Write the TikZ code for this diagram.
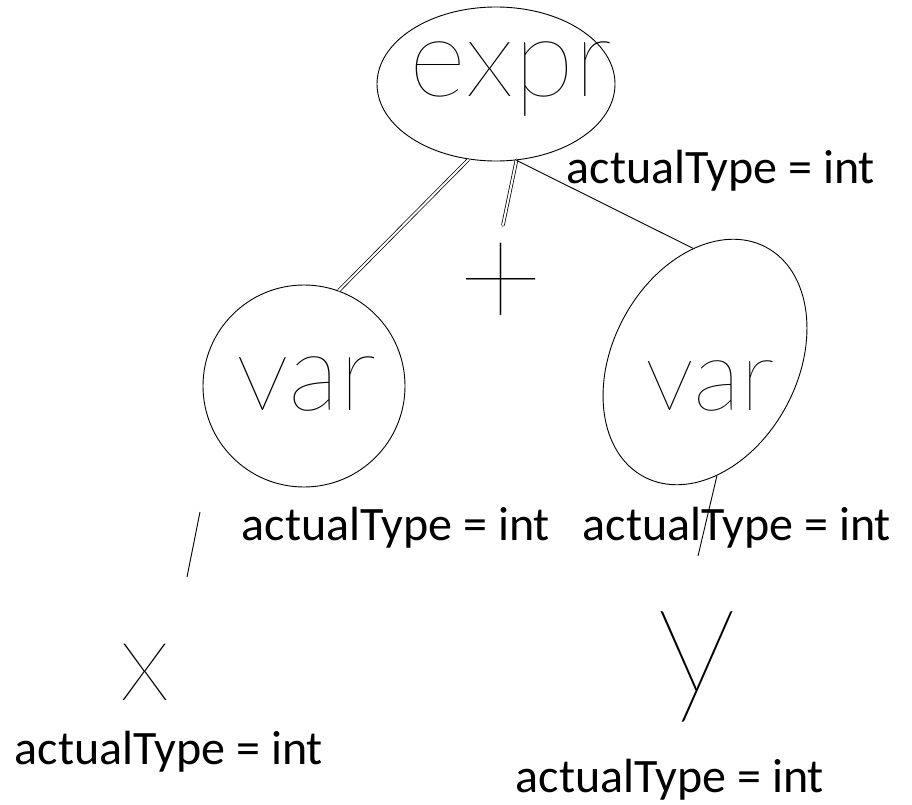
\documentclass[tikz,border=0pt]{standalone}
\usepackage{fontspec}
\usepackage{tikz}
\usetikzlibrary{shapes.geometric,positioning,calc}
\newfontfamily\labelfont{Carlito}
\newfontfamily\handfont{Lato Hairline}
\newcommand{\hand}[1]{\fontsize{#1}{#1}\selectfont\handfont}

\begin{document}
\begin{tikzpicture}[x=1pt,y=-1pt,line width=0.9pt,
  blob/.style={draw,ellipse,inner sep=0pt},
  scrawl/.style={anchor=base,inner sep=0pt},
  attr/.style={anchor=base,font=\labelfont\fontsize{48}{48}\selectfont,inner sep=0pt},
  twin/.style={double,double distance=2pt,line width=0.75pt}]
  \useasboundingbox (0,0) rectangle (912,805);
  \node[blob,minimum width=238,minimum height=154] (expr) at (496,84) {};
  \node[blob,minimum width=202,minimum height=202] (varL) at (304,386) {};
  \node[blob,minimum width=185,minimum height=260,rotate=-28] (varR) at (705,362) {};
  \node[scrawl,font=\hand{110}] (exprtext) at (511,97) {expr};
  \node[scrawl,font=\hand{108}] (varLtext) at (307,410) {var};
  \node[scrawl,font=\hand{100}] (varRtext) at (710,410) {var};
  \node[scrawl,font=\hand{150}] (plus) at (501,329) {+};
  \node[scrawl,font=\hand{115}] (xleaf) at (145,700) {x};
  \node[scrawl,font=\hand{165}] (yleaf) at (697,692) {y};
  \coordinate (stub) at (503,225);
  \coordinate (ystub) at (698,556);
  \coordinate (xstubA) at (200,512);
  \coordinate (xstubB) at (187,577);
  \draw[twin] (expr.250) -- (varL.70);
  \draw[twin,line cap=round] (expr.285) -- (stub);
  \draw (expr.285) -- (varR.124);
  \draw (varR.304) -- (ystub);
  \draw (xstubA) -- (xstubB);
  \node[attr] (exprtype) at (721,183) {actualType = int};
  \node[attr] (varLtype) at (396,540) {actualType = int};
  \node[attr] (varRtype) at (737,540) {actualType = int};
  \node[attr] (xtype) at (169,764) {actualType = int};
  \node[attr] (ytype) at (670,792) {actualType = int};
\end{tikzpicture}
\end{document}
